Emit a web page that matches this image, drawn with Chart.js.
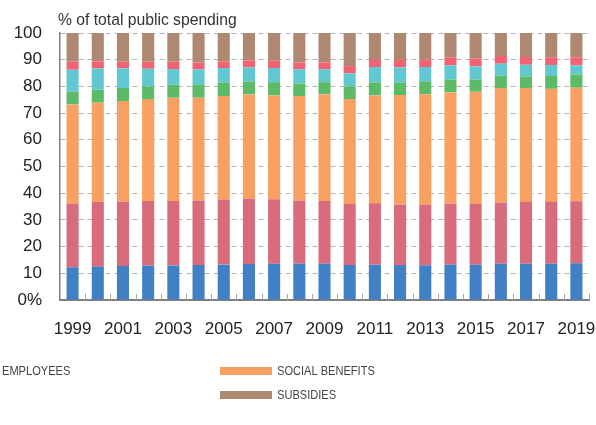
<!DOCTYPE html>
<html>
<head>
<meta charset="utf-8">
<script src="https://cdn.jsdelivr.net/npm/chart.js@4.4.1/dist/chart.umd.min.js"></script>
<style>
    html, body { margin: 0; padding: 0; background: #fff; }
    #wrap { width: 596px; height: 425px; position: relative; }
</style>
</head>
<body>
<div id="wrap"><canvas id="spending_canvas"></canvas></div>
<script>
let years = ['1999', '2000', '2001', '2002', '2003', '2004', '2005', '2006', '2007', '2008', '2009',
    '2010', '2011', '2012', '2013', '2014', '2015', '2016', '2017', '2018', '2019'];

// shares of total public spending, %, stacked bottom to top
let employees = [12.25, 12.5, 12.75, 12.9, 12.9, 13.1, 13.25, 13.5, 13.6, 13.6, 13.6,
    13.1, 13.25, 13.1, 13.0, 13.25, 13.25, 13.6, 13.6, 13.6, 13.75];
let intermediate = [23.85, 24.25, 24.15, 24.2, 24.2, 24.15, 24.35, 24.4, 24.15, 23.65, 23.5,
    22.9, 23.0, 22.65, 22.6, 22.85, 22.75, 22.9, 23.15, 23.15, 23.25];
let socialBenefits = [37.15, 37.15, 37.6, 38.15, 38.65, 38.5, 38.8, 39.1, 38.85, 39.15, 39.9,
    39.25, 40.35, 41.0, 41.45, 41.65, 42.0, 42.9, 42.65, 42.35, 42.5];
let interest = [4.75, 4.85, 4.9, 4.75, 4.85, 5.0, 5.1, 4.9, 5.0, 4.7, 4.6,
    4.75, 4.9, 4.75, 4.9, 4.85, 4.5, 4.6, 4.35, 4.8, 4.9];
let investment = [8.25, 8.0, 7.35, 6.6, 5.9, 5.65, 5.4, 5.2, 5.3, 5.3, 4.8,
    4.9, 5.75, 5.6, 5.3, 5.3, 5.0, 4.5, 4.35, 4.1, 3.5];
let other = [3.0, 2.65, 2.5, 2.65, 2.75, 2.5, 2.35, 2.65, 2.7, 2.6, 2.6,
    2.7, 2.65, 2.8, 2.75, 3.0, 2.9, 2.9, 2.9, 2.9, 3.0];
let subsidies = [10.75, 10.6, 10.75, 10.75, 10.75, 11.1, 10.75, 10.25, 10.4, 11.0, 11.0,
    12.4, 10.1, 10.1, 10.0, 9.1, 9.6, 8.6, 9.0, 9.1, 9.1];

let yTickLabels = ['0%', '10', '20', '30', '40', '50', '60', '70', '80', '90', '100'];
let yTitle = '% of total public spending';

let seriesNames = ['EMPLOYEES', 'INTERMEDIATE CONSUMPTION', 'SOCIAL BENEFITS', 'INTEREST',
    'INVESTMENT', 'OTHER', 'SUBSIDIES'];
let seriesColors = ['#4180c4', '#d86c7c', '#f7a062', '#5dbb68', '#61c8d2', '#f06274', '#ae8870'];
let seriesValues = [employees, intermediate, socialBenefits, interest, investment, other, subsidies];

// legend entries: [series index, column, row]
let legendEntries = [[0, 0, 0], [2, 1, 0], [6, 1, 1]];

let extrasPlugin = {
    id: 'extras',
    afterDatasetsDraw: function(chart) {
        // small tick marks between the bars, inside the plot
        let ctx = chart.ctx;
        let x = chart.scales.x;
        let step = x.width / years.length;
        ctx.save();
        ctx.strokeStyle = '#a6a6a6';
        ctx.lineWidth = 1;
        ctx.beginPath();
        for (let i = 1; i <= years.length; i++) {
            let px = Math.round(x.left + i * step) + 0.5;
            ctx.moveTo(px, x.top - 6);
            ctx.lineTo(px, x.top);
        }
        ctx.stroke();
        ctx.restore();
    },
    afterDraw: function(chart) {
        let ctx = chart.ctx;
        let area = chart.chartArea;
        ctx.save();

        ctx.font = "15.7px 'Liberation Sans', Arial, sans-serif";
        ctx.fillStyle = '#333';
        ctx.textAlign = 'left';
        ctx.textBaseline = 'alphabetic';
        ctx.fillText(yTitle, area.left - 2, 25);

        // condensed legend text: plain sans squeezed horizontally
        ctx.textBaseline = 'middle';
        legendEntries.forEach(function(e) {
            let left = -55 + e[1] * 275;
            let top = 367 + e[2] * 24;
            ctx.fillStyle = seriesColors[e[0]];
            ctx.fillRect(left, top, 52, 8);
            ctx.save();
            ctx.translate(left + 57, top + 4.5);
            ctx.scale(0.82, 1);
            ctx.font = "13.5px 'Liberation Sans', Arial, sans-serif";
            ctx.fillStyle = '#444';
            ctx.fillText(seriesNames[e[0]], 0, 0);
            ctx.restore();
        });
        ctx.restore();
    }
};

let ctx = document.getElementById('spending_canvas').getContext('2d');

Chart.defaults.font.family = "'Liberation Sans', Arial, sans-serif";
Chart.defaults.color = '#222';

let chart = new Chart(ctx, {
    type: 'bar',
    data: {
        labels: years,
        datasets: seriesValues.map(function(vals, i) {
            return {
                label: seriesNames[i],
                data: vals,
                backgroundColor: seriesColors[i],
                borderWidth: 0,
                barPercentage: 0.48,
                categoryPercentage: 1.0
            };
        })
    },
    options: {
        responsive: true,
        maintainAspectRatio: false,
        animation: false,
        layout: { padding: { top: 33, right: 7, left: 0, bottom: 0 } },
        plugins: {
            legend: { display: false },
            tooltip: { enabled: false }
        },
        scales: {
            x: {
                stacked: true,
                grid: { display: false },
                border: { display: true, color: '#7f7f7f', width: 2 },
                ticks: {
                    autoSkip: false,
                    maxRotation: 0,
                    padding: 11,
                    font: { size: 17 },
                    callback: function(v, i) { return i % 2 === 0 ? years[i] : ''; }
                },
                afterFit: function(s) {
                    s.height = 125;
                    s.paddingLeft = 0;
                    s.paddingRight = 0;
                }
            },
            y: {
                stacked: true,
                min: 0,
                max: 100,
                ticks: {
                    stepSize: 10,
                    padding: 18,
                    font: { size: 17 },
                    callback: function(v, i) { return yTickLabels[i]; }
                },
                grid: { color: '#b3b3b3', lineWidth: 1, drawTicks: false },
                border: { color: '#7f7f7f', width: 1.5, dash: [5, 4] },
                afterFit: function(s) { s.width = 60; }
            }
        }
    },
    plugins: [extrasPlugin]
});
</script>
</body>
</html>
